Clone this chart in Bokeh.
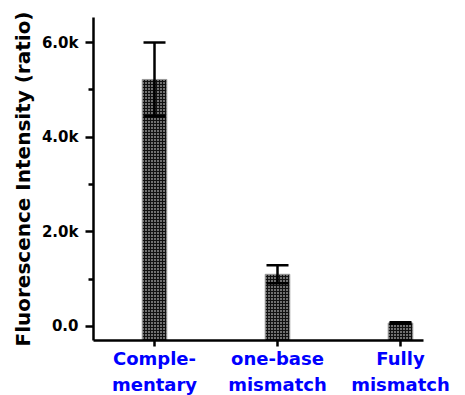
from bokeh.plotting import figure
from bokeh.models import ColumnDataSource, Whisker, FixedTicker, Range1d
from bokeh.embed import file_html
from bokeh.resources import INLINE

categories = ["Comple-\nmentary", "one-base\nmismatch", "Fully\nmismatch"]
means = [5220, 1100, 70]
errors = [780, 190, 15]
y_ticks = [0, 2000, 4000, 6000]
y_tick_labels = ["0.0", "2.0k", "4.0k", "6.0k"]

xs = list(range(len(categories)))
Y_MIN, Y_MAX = -300, 6530
src = ColumnDataSource(dict(
    x=xs, top=means,
    upper=[m + e for m, e in zip(means, errors)],
    lower=[m - e for m, e in zip(means, errors)],
))

FONT = "DejaVu Sans"
p = figure(width=465, height=395, frame_width=330, frame_height=323,
           min_border_left=93, min_border_right=42, min_border_top=17, min_border_bottom=55,
           x_range=Range1d(-0.496, 2.187), y_range=Range1d(Y_MIN, Y_MAX),
           output_backend="svg", toolbar_location=None)
p.outline_line_color = None
p.grid.visible = False

p.vbar(x="x", top="top", bottom=Y_MIN, width=0.2, source=src,
       fill_color="#111111", line_color="#9a9a9a", line_width=1,
       hatch_pattern="dot", hatch_color="white", hatch_scale=3, hatch_weight=0.8)

w = Whisker(base="x", upper="upper", lower="lower", source=src,
            line_color="black", line_width=2.5, level="overlay")
w.upper_head.size = 22
w.upper_head.line_width = 2.5
w.lower_head.size = 22
w.lower_head.line_width = 2.5
p.add_layout(w)

ya = p.yaxis[0]
ya.ticker = FixedTicker(ticks=y_ticks, minor_ticks=[1000, 3000, 5000])
ya.major_label_overrides = {t: l for t, l in zip(y_ticks, y_tick_labels)}
ya.axis_label = "Fluorescence Intensity (ratio)"
ya.axis_label_text_font = FONT
ya.axis_label_text_font_style = "bold"
ya.axis_label_text_font_size = "20px"
ya.axis_label_text_color = "black"
ya.axis_label_standoff = 4
ya.major_label_text_font = FONT
ya.major_label_text_font_style = "bold"
ya.major_label_text_font_size = "15px"
ya.major_label_text_color = "black"
ya.major_label_standoff = 7
ya.axis_line_width = 2.5
ya.major_tick_line_width = 2.5
ya.minor_tick_line_width = 2.5
ya.major_tick_out = 8
ya.major_tick_in = 0
ya.minor_tick_out = 5
ya.minor_tick_in = 0

xa = p.xaxis[0]
xa.ticker = FixedTicker(ticks=xs, minor_ticks=[])
xa.major_label_overrides = {i: c for i, c in zip(xs, categories)}
xa.major_label_text_font = FONT
xa.major_label_text_font_style = "bold"
xa.major_label_text_font_size = "18px"
xa.major_label_text_line_height = 1.25
xa.major_label_text_color = "#0000ff"
xa.major_label_standoff = 1
xa.axis_line_width = 2.5
xa.major_tick_line_width = 2.5
xa.major_tick_out = 6
xa.major_tick_in = 0
xa.minor_tick_line_color = None

open("out.html", "w").write(file_html(p, INLINE))
